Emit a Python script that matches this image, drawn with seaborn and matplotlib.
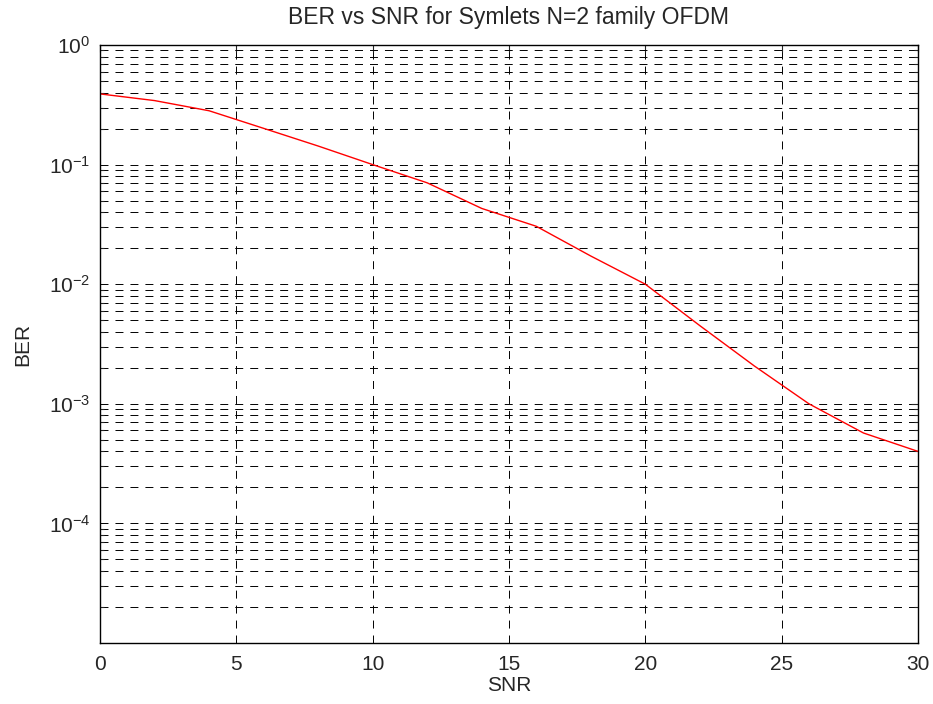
import numpy as np
import pandas as pd
import matplotlib
matplotlib.use("Agg")
import matplotlib.pyplot as plt
import seaborn as sns
from matplotlib.ticker import LogLocator, NullFormatter, FixedLocator

snr = [0, 2, 4, 6, 8, 10, 12, 14, 16, 18, 20, 22, 24, 26, 28, 30]
ber = [0.39, 0.343, 0.282, 0.201, 0.143, 0.100, 0.0704, 0.043, 0.0305,
       0.0172, 0.0100, 0.0045, 0.00207, 0.00100, 0.00057, 0.00040]
xticks = [0, 5, 10, 15, 20, 25, 30]
yticks = [1e0, 1e-1, 1e-2, 1e-3, 1e-4]
ytick_labels = [r"$10^{0}$", r"$10^{-1}$", r"$10^{-2}$", r"$10^{-3}$", r"$10^{-4}$"]

sns.set_style("white")
plt.rcParams['font.family'] = ['Liberation Sans', 'DejaVu Sans']
plt.rcParams['mathtext.fontset'] = 'custom'
plt.rcParams['mathtext.rm'] = 'Liberation Sans'
plt.rcParams['mathtext.it'] = 'Liberation Sans'
plt.rcParams['mathtext.default'] = 'regular'

df = pd.DataFrame({"SNR": snr, "BER": ber})

fig = plt.figure(figsize=(9.33, 7.04), dpi=100)
ax = fig.add_axes([100/933, 1 - 643/704, 818/933, 598/704])

sns.lineplot(data=df, x="SNR", y="BER", ax=ax, color="red", linewidth=1.0)
ax.set_yscale("log")
ax.set_xlim(0, 30)
ax.set_ylim(1e-5, 1e0)

ax.xaxis.set_major_locator(FixedLocator(xticks))
ax.yaxis.set_major_locator(FixedLocator(yticks))
ax.set_yticklabels(ytick_labels)
ax.yaxis.set_minor_locator(LogLocator(base=10, subs=np.arange(2, 10), numticks=20))
ax.yaxis.set_minor_formatter(NullFormatter())

dash = (0, (8.2, 7.2))
ax.grid(True, which="major", axis="both", color="black", linestyle=dash, linewidth=0.7)
ax.grid(True, which="minor", axis="y", color="black", linestyle=dash, linewidth=0.7)

ax.tick_params(axis="x", which="major", direction="in", length=5, width=0.8,
               labelsize=15, top=True, pad=9)
ax.tick_params(axis="y", which="major", direction="in", length=5, width=0.8,
               labelsize=15, right=True, pad=7)
ax.tick_params(axis="y", which="minor", direction="in", length=3, width=0.8, right=True, left=True)
for s in ax.spines.values():
    s.set_visible(True)
    s.set_color("black")
    s.set_linewidth(1.0)

ax.set_xlabel("SNR", fontsize=15, labelpad=1)
ax.set_ylabel("BER", fontsize=15, labelpad=12)
ax.set_title("BER vs SNR for Symlets N=2 family OFDM", fontsize=16.5, pad=15)

fig.savefig("out.png", dpi=100)
